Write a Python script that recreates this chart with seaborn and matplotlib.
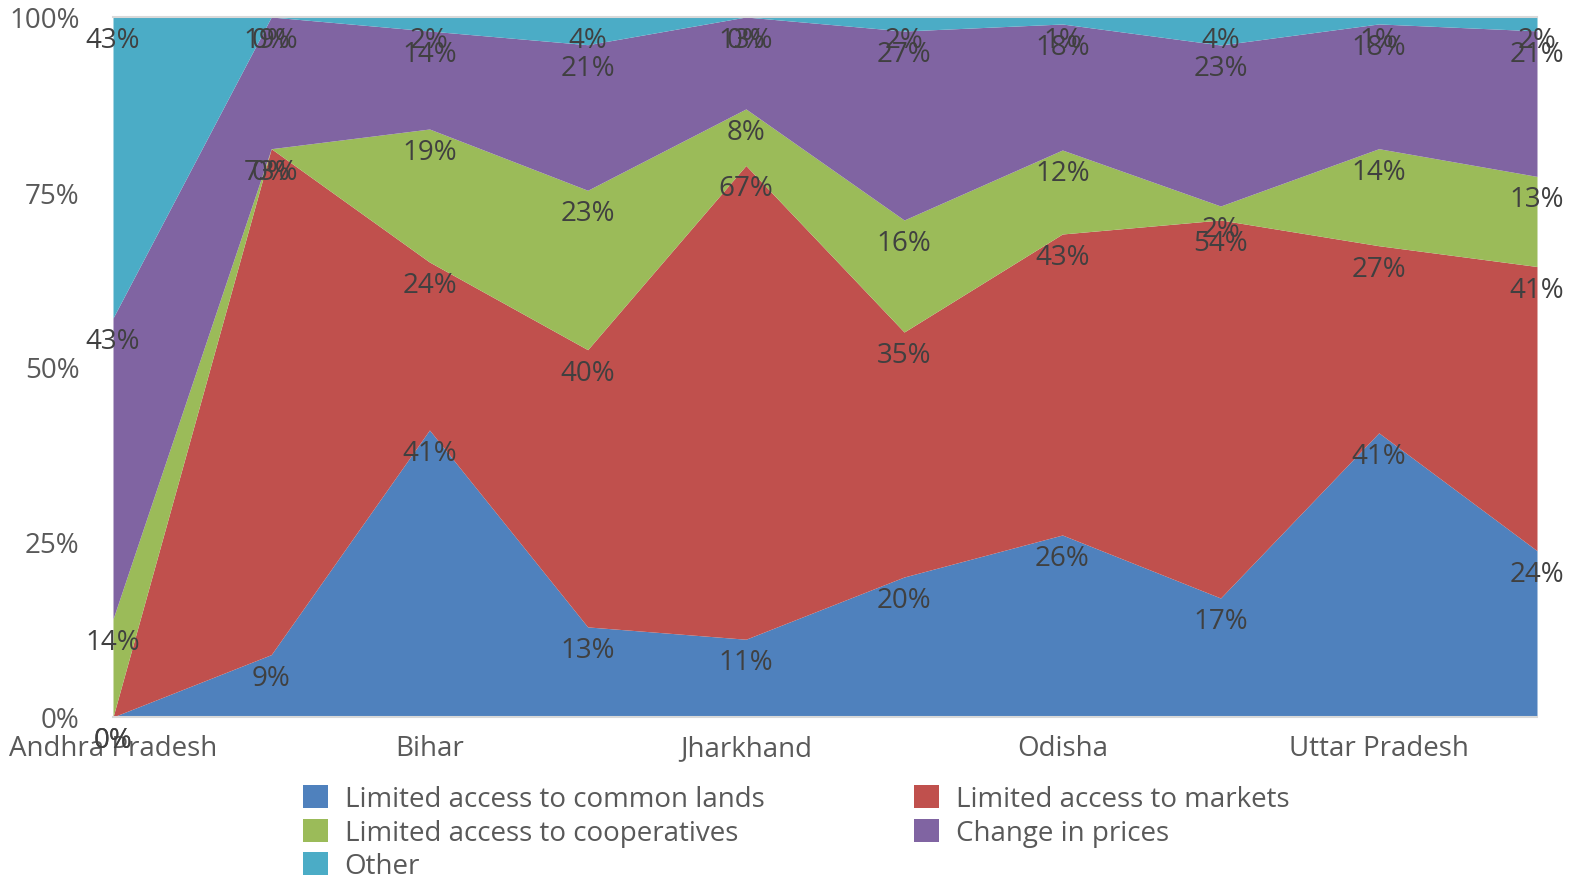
import numpy as np
import pandas as pd
import matplotlib
matplotlib.use("Agg")
import matplotlib.pyplot as plt
import seaborn as sns
from matplotlib.patches import Patch

# ---- data ----
positions = list(range(10))
tick_positions = [0, 2, 4, 6, 8]
tick_labels = ["Andhra Pradesh", "Bihar", "Jharkhand", "Odisha", "Uttar Pradesh"]

series_names = [
    "Limited access to common lands",
    "Limited access to markets",
    "Limited access to cooperatives",
    "Change in prices",
    "Other",
]
common_lands = [0, 9, 41, 13, 11, 20, 26, 17, 41, 24]
markets = [0, 73, 24, 40, 67, 35, 43, 54, 27, 41]
cooperatives = [14, 0, 19, 23, 8, 16, 12, 2, 14, 13]
prices = [43, 19, 14, 21, 13, 27, 18, 23, 18, 21]
other = [43, 0, 2, 4, 0, 2, 1, 4, 1, 2]

colors = ["#4F81BD", "#C0504D", "#9BBB59", "#8064A2", "#4BACC6"]

# ---- style ----
sns.set_theme(style="white")
plt.rcParams["font.family"] = ["Open Sans", "DejaVu Sans"]

df = pd.DataFrame(
    {n: v for n, v in zip(series_names, [common_lands, markets, cooperatives, prices, other])},
    index=positions,
)
norm = df.div(df.sum(axis=1), axis=0) * 100
cum = norm.cumsum(axis=1)

W, H = 1578, 878
L, R, T, B = 113, 1537, 18, 718
fig = plt.figure(figsize=(W / 100, H / 100), dpi=100)
ax = fig.add_axes([L / W, 1 - B / H, (R - L) / W, (B - T) / H])

ax.stackplot(norm.index, [norm[c] for c in series_names], colors=colors, linewidth=0, zorder=2)

label_color = "#404040"
fs = 20
for j, name in enumerate(series_names):
    for i in positions:
        ax.annotate(f"{df[name][i]}%", xy=(i, cum[name][i]), xytext=(0, -23),
                    textcoords="offset pixels", ha="center", va="center",
                    fontsize=fs, color=label_color, zorder=5, annotation_clip=False)

ax.set_xlim(0, 9)
ax.set_ylim(0, 100)
ax.set_xticks(tick_positions)
ax.set_xticklabels(tick_labels)
ax.set_yticks([0, 25, 50, 75, 100])
ax.set_yticklabels(["0%", "25%", "50%", "75%", "100%"])
ax.tick_params(axis="x", length=0, pad=12, labelsize=fs, labelcolor="#595959")
ax.tick_params(axis="y", length=0, pad=24, labelsize=fs, labelcolor="#595959")

for s in ["left", "right"]:
    ax.spines[s].set_visible(False)
for s in ["top", "bottom"]:
    ax.spines[s].set_color("#D9D9D9")
    ax.spines[s].set_linewidth(1.5)

handles = [Patch(facecolor=c, edgecolor="none") for c in colors]
order = [0, 2, 4, 1, 3]
fig.legend([handles[k] for k in order], [series_names[k] for k in order],
           loc="upper left", bbox_to_anchor=(303 / W, 1 - 786 / H), ncol=2,
           frameon=False, fontsize=fs, labelcolor="#595959",
           handlelength=0.9, handleheight=0.9, handletextpad=0.6,
           columnspacing=5.4, labelspacing=0.2, borderpad=0, borderaxespad=0)

fig.savefig("out.png", dpi=100)
